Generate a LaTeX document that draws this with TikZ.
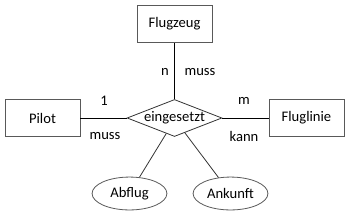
\documentclass[tikz,border=0pt]{standalone}
\usepackage{fontspec}
\setmainfont{Carlito}
\usepackage{tikz}
\usetikzlibrary{shapes.geometric}

\begin{document}
\begin{tikzpicture}[font=\fontsize{11}{13}\selectfont,
  entity/.style={draw=black!65, line width=0.6pt, minimum width=1.98cm, minimum height=1.0cm, inner sep=0pt},
  relation/.style={draw=black!80, line width=0.6pt, diamond, aspect=2.57, minimum width=2.51cm, minimum height=0.98cm, inner sep=0pt},
  attr/.style={draw=black!65, line width=0.6pt, ellipse, minimum width=1.98cm, minimum height=0.87cm, inner sep=0pt},
  link/.style={line width=0.6pt}]
\useasboundingbox (0,0) rectangle (9.234,5.768);
% entities and relationship
\node[entity] (flugzeug) at (4.617,5.133) {Flugzeug};
\node[relation] (einsatz) at (4.617,2.646) {eingesetzt};
\node[entity] (pilot) at (1.124,2.646) {Pilot};
\node[entity] (fluglinie) at (8.109,2.646) {Fluglinie};
% attributes
\node[attr] (abflug) at (3.426,0.648) {Abflug};
\node[attr] (ankunft) at (6.099,0.648) {Ankunft};
% connections
\draw[link] (flugzeug) -- (einsatz);
\draw[link] (pilot) -- (einsatz);
\draw[link] (einsatz) -- (fluglinie);
\draw[link, black!80] (einsatz.242) -- (abflug);
\draw[link, black!80] (einsatz.305) -- (ankunft);
% cardinalities
\node (cardn) at (4.366,3.863) {n};
\node (mussa) at (5.292,3.863) {muss};
\node (card1) at (2.752,3.096) {1};
\node (mussb) at (2.778,2.170) {muss};
\node (cardm) at (6.456,3.096) {m};
\node (kann) at (6.456,2.170) {kann};
\end{tikzpicture}
\end{document}
